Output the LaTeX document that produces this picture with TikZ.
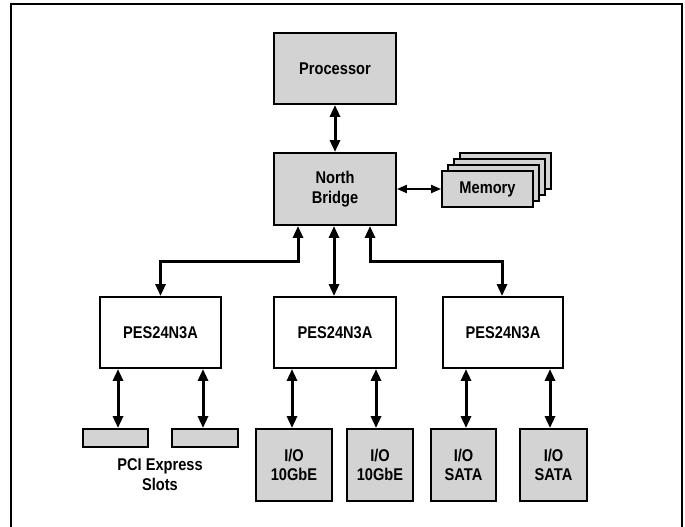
\documentclass[tikz,border=0pt]{standalone}
\usepackage{fontspec}
\setmainfont{Liberation Sans}[FakeStretch=0.86]
\usetikzlibrary{arrows.meta}
\definecolor{boxgray}{RGB}{211,211,211}
\tikzset{
  blk/.style={draw=black, line width=1.9pt, inner sep=0pt, align=center,
    font=\fontsize{17}{19.5}\selectfont\bfseries},
  gblk/.style={blk, fill=boxgray},
  wblk/.style={blk, fill=white},
  biarrow/.style={line width=3pt,
    {Triangle[length=12pt,width=10pt]}-{Triangle[length=12pt,width=10pt]}},
  thinarrow/.style={line width=2pt,
    {Triangle[length=10pt,width=8pt]}-{Triangle[length=10pt,width=8pt]}},
  lbl/.style={font=\fontsize{17}{20}\selectfont\bfseries, align=center, inner sep=0pt}
}
\begin{document}
\begin{tikzpicture}[x=1pt,y=-1pt]
\useasboundingbox (0,0) rectangle (685,527);
% frame
\draw[line width=1.9pt] (11,540) -- (11,4) -- (682,4) -- (682,540);

% top
\node[gblk, minimum width=122pt, minimum height=71pt] (proc) at (335,68.5) {Processor};
\node[gblk, minimum width=122pt, minimum height=72pt] (nb) at (335,189) {North\\Bridge};

% memory stack
\node[gblk, minimum width=91pt, minimum height=36pt] (mem3) at (505.5,171) {};
\node[gblk, minimum width=91pt, minimum height=36pt] (mem2) at (499.5,177) {};
\node[gblk, minimum width=91pt, minimum height=36pt] (mem1) at (493.5,183) {};
\node[gblk, minimum width=91pt, minimum height=36pt] (mem) at (487.5,189) {Memory};

% switches
\node[wblk, minimum width=121pt, minimum height=71pt] (pes1) at (160.5,332.5) {PES24N3A};
\node[wblk, minimum width=122pt, minimum height=71pt] (pes2) at (335,332.5) {PES24N3A};
\node[wblk, minimum width=120pt, minimum height=71pt] (pes3) at (503,332.5) {PES24N3A};

% bottom
\node[gblk, minimum width=65pt, minimum height=18pt] (slot1) at (115.5,438) {};
\node[gblk, minimum width=66pt, minimum height=18pt] (slot2) at (205,438) {};
\node[lbl] (slotlbl) at (160,475) {PCI Express\\Slots};
\node[gblk, minimum width=76pt, minimum height=72pt] (io1) at (294,465) {I/O\\10GbE};
\node[gblk, minimum width=66pt, minimum height=72pt] (io2) at (380,465) {I/O\\10GbE};
\node[gblk, minimum width=65pt, minimum height=72pt] (io3) at (463.5,465) {I/O\\SATA};
\node[gblk, minimum width=67pt, minimum height=72pt] (io4) at (553.5,465) {I/O\\SATA};

% connectors
\draw[biarrow] (proc.south) -- (nb.north);
\draw[thinarrow] (nb.east) -- (mem.west);
\draw[biarrow] ([xshift=-37pt]nb.south) |- ([yshift=35pt]pes1.north) -- (pes1.north);
\draw[biarrow] ([xshift=-1pt]nb.south) -- ([xshift=-1pt]pes2.north);
\draw[biarrow] ([xshift=35pt]nb.south) |- ([yshift=35pt,xshift=-1pt]pes3.north) -- ([xshift=-1pt]pes3.north);

\draw[biarrow] ([xshift=2.5pt]slot1.north |- pes1.south) -- ([xshift=2.5pt]slot1.north);
\draw[biarrow] ([xshift=-2pt]slot2.north |- pes1.south) -- ([xshift=-2pt]slot2.north);
\draw[biarrow] ([xshift=-2pt]io1.north |- pes2.south) -- ([xshift=-2pt]io1.north);
\draw[biarrow] ([xshift=-4pt]io2.north |- pes2.south) -- ([xshift=-4pt]io2.north);
\draw[biarrow] ([xshift=2.5pt]io3.north |- pes3.south) -- ([xshift=2.5pt]io3.north);
\draw[biarrow] ([xshift=-3.5pt]io4.north |- pes3.south) -- ([xshift=-3.5pt]io4.north);
\end{tikzpicture}
\end{document}
